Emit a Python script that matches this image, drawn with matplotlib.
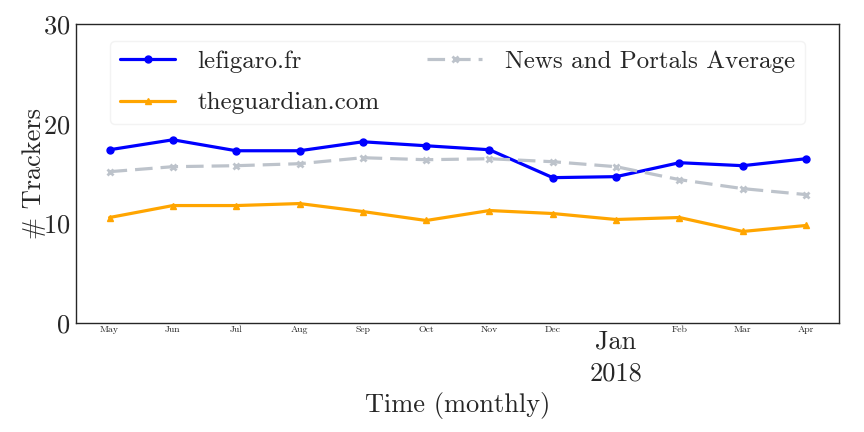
import matplotlib
matplotlib.use("Agg")
import matplotlib.pyplot as plt
import seaborn as sns

months = ["May", "Jun", "Jul", "Aug", "Sep", "Oct", "Nov", "Dec", "Jan", "Feb", "Mar", "Apr"]
lefigaro = [17.4, 18.4, 17.3, 17.3, 18.2, 17.8, 17.4, 14.6, 14.7, 16.1, 15.8, 16.5]
theguardian = [10.6, 11.8, 11.8, 12.0, 11.2, 10.3, 11.3, 11.0, 10.4, 10.6, 9.2, 9.8]
news_avg = [15.2, 15.7, 15.8, 16.0, 16.6, 16.4, 16.5, 16.2, 15.7, 14.4, 13.5, 12.9]

sns.set_style("white")
plt.rcParams['font.family'] = ['cmr10', 'DejaVu Serif']
plt.rcParams['axes.formatter.use_mathtext'] = True
plt.rcParams['text.color'] = '#262626'
plt.rcParams['axes.labelcolor'] = '#262626'
plt.rcParams['xtick.color'] = '#262626'
plt.rcParams['ytick.color'] = '#262626'

fig = plt.figure(figsize=(8.64, 4.32), dpi=100)
ax = fig.add_axes([0.088, 0.252, 0.883, 0.692])

x = list(range(len(months)))
ax.plot(x, lefigaro, color='blue', marker='o', markersize=5, lw=2.3, label='lefigaro.fr')
ax.plot(x, theguardian, color='orange', marker='^', markersize=5, lw=2.3, label='theguardian.com')
ax.plot(x, news_avg, color='#bdc3cb', marker='x', markersize=5, mew=2, lw=2.3, ls='--',
        dashes=(5.5, 2.5), label='News and Portals Average')

ax.set_ylim(0, 30)
ax.set_yticks([0, 10, 20, 30])
ax.set_xlim(-0.53, 11.52)
ax.tick_params(axis='y', labelsize=19, length=0, pad=4)

jan = months.index("Jan")
ax.set_xticks([jan])
ax.set_xticklabels(["Jan\n2018"], fontsize=19, linespacing=1.4)
ax.set_xticks([i for i in x if i != jan], minor=True)
ax.set_xticklabels([m for i, m in enumerate(months) if i != jan], minor=True, fontsize=7)
ax.tick_params(axis='x', which='major', length=0, pad=5)
ax.tick_params(axis='x', which='minor', length=0, pad=2)

for s in ax.spines.values():
    s.set_color('#262626')
    s.set_linewidth(1.0)

ax.set_ylabel('# Trackers', fontsize=19, labelpad=-2)
ax.set_xlabel('Time (monthly)', fontsize=19, labelpad=5)

leg = ax.legend(loc='upper center', bbox_to_anchor=(0.5, 0.945), borderaxespad=0,
                ncol=2, fontsize=18, handlelength=2.2, handletextpad=0.9,
                columnspacing=1.9, labelspacing=0.75, frameon=True, framealpha=0.8,
                edgecolor='#f0f0f0')

fig.savefig('out.png', dpi=100)
